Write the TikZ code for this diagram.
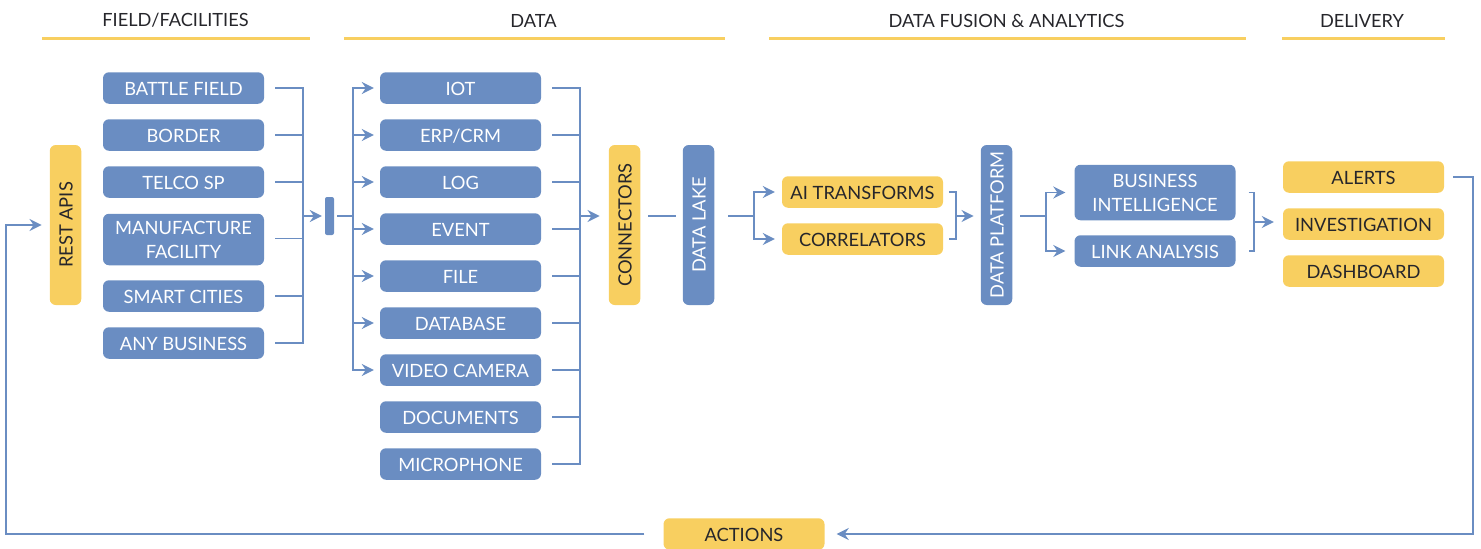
\documentclass[tikz,border=0pt]{standalone}
\usepackage{fontspec}
\setmainfont{Lato}
\usetikzlibrary{arrows.meta}
\definecolor{bluebox}{HTML}{6A8DC2}
\definecolor{yellowbox}{HTML}{F8CF60}
\definecolor{darktext}{HTML}{26262B}
\tikzset{
  base/.style={rounded corners=6pt,inner sep=0pt,align=center,font=\fontsize{18.3}{24}\selectfont,anchor=center},
  bbox/.style={base,fill=bluebox,text=white,minimum width=161pt,minimum height=31.5pt},
  ybox/.style={base,fill=yellowbox,text=darktext,minimum width=161pt,minimum height=31.5pt},
  oneline/.style={text height=15pt,text depth=0pt},
  upright/.style={text height=14pt,text depth=0pt,rotate=90,minimum width=160pt},
  header/.style={font=\fontsize{18.2}{22}\selectfont,text=darktext,inner sep=0pt},
  rule/.style={draw=yellowbox,line width=3pt},
  conn/.style={draw=bluebox,line width=1.9pt,line join=miter},
  arr/.style={conn,-{Stealth[length=12pt,width=12pt,inset=4pt]}},
}
\begin{document}
\begin{tikzpicture}[x=1pt,y=-1pt]
\useasboundingbox (0,0) rectangle (1481,549);
% headers
\node[header] (h1) at (175.5,20.5) {FIELD/FACILITIES};
\node[header] (h2) at (533.5,20.5) {DATA};
\node[header] (h3) at (1006.5,20.5) {DATA FUSION \& ANALYTICS};
\node[header] (h4) at (1362,20.5) {DELIVERY};
\draw[rule] (42,38) -- (310,38);
\draw[rule] (344,38) -- (725,38);
\draw[rule] (769,38) -- (1246,38);
\draw[rule] (1282,38) -- (1445,38);
% field column
\node[bbox,oneline] (f1) at (183.5,88) {BATTLE FIELD};
\node[bbox,oneline] (f2) at (183.5,135) {BORDER};
\node[bbox,oneline] (f3) at (183.5,182) {TELCO SP};
\node[bbox,minimum height=51.5pt] (f4) at (183.5,239.5) {MANUFACTURE\\FACILITY};
\node[bbox,oneline] (f5) at (183.5,296) {SMART CITIES};
\node[bbox,oneline] (f6) at (183.5,343) {ANY BUSINESS};
\node[ybox,upright] (rest) at (65.5,225) {REST APIS};
\node[base,fill=bluebox,minimum width=9pt,minimum height=38pt,rounded corners=2pt] (bar) at (329.5,216) {};
% data column
\node[bbox,oneline] (d1) at (460.5,88) {IOT};
\node[bbox,oneline] (d2) at (460.5,135) {ERP/CRM};
\node[bbox,oneline] (d3) at (460.5,182) {LOG};
\node[bbox,oneline] (d4) at (460.5,229) {EVENT};
\node[bbox,oneline] (d5) at (460.5,276) {FILE};
\node[bbox,oneline] (d6) at (460.5,323) {DATABASE};
\node[bbox,oneline] (d7) at (460.5,370) {VIDEO CAMERA};
\node[bbox,oneline] (d8) at (460.5,417) {DOCUMENTS};
\node[bbox,oneline] (d9) at (460.5,464) {MICROPHONE};
\node[ybox,upright] (conx) at (624.5,225) {CONNECTORS};
\node[bbox,upright] (lake) at (698.5,225) {DATA LAKE};
\node[ybox,oneline] (ai) at (862.5,192) {AI TRANSFORMS};
\node[ybox,oneline] (corr) at (862.5,239) {CORRELATORS};
\node[bbox,upright] (plat) at (996.5,225) {DATA PLATFORM};
\node[bbox,minimum height=55.5pt] (bi) at (1155,192.5) {BUSINESS\\INTELLIGENCE};
\node[bbox,oneline] (link) at (1155,251) {LINK ANALYSIS};
\node[ybox,oneline] (alerts) at (1363.5,177) {ALERTS};
\node[ybox,oneline] (inv) at (1363.5,224) {INVESTIGATION};
\node[ybox,oneline] (dash) at (1363.5,271) {DASHBOARD};
\node[ybox,oneline] (act) at (744,534) {ACTIONS};
% bus coordinates
\coordinate (b1) at (303,216);
\coordinate (b2) at (353,216);
\coordinate (b3) at (580,216);
\coordinate (b4) at (754,216);
\coordinate (b5) at (956,216);
\coordinate (b6) at (1046,216);
\coordinate (b7) at (1254,222);
\coordinate (outR) at (1473,534);
\coordinate (outL) at (6,534);
% field -> bar
\draw[conn] ([xshift=11pt]f1.east) -| (b1 |- f6.east) -- ([xshift=11pt]f6.east);
\foreach \n in {f2,f3,f5}{\draw[conn] ([xshift=11pt]\n.east) -- (b1 |- \n.east);}
\draw[conn] ([xshift=11pt,yshift=1pt]f4.east) -- ([yshift=1pt]b1 |- f4.east);
\draw[arr] (b1) -- ([xshift=-3pt]bar.west);
% bar -> data
\draw[conn] ([xshift=3pt]bar.east) -- (b2);
\draw[arr] (b2 |- d7.west) -- (b2 |- d1.west) -- ([xshift=-6pt]d1.west);
\foreach \n in {d2,d3,d4,d5,d6}{\draw[arr] (b2 |- \n.west) -- ([xshift=-6pt]\n.west);}
\draw[arr] (b2 |- d1.west) -- (b2 |- d7.west) -- ([xshift=-6pt]d7.west);
% data -> connectors
\draw[conn] ([xshift=11pt]d1.east) -| (b3 |- d9.east) -- ([xshift=11pt]d9.east);
\foreach \n in {d2,d3,d4,d5,d6,d7,d8}{\draw[conn] ([xshift=11pt]\n.east) -- (b3 |- \n.east);}
\draw[arr] (b3) -- ([xshift=-9pt]conx.north |- b3);
% connectors -> lake
\draw[conn] ([xshift=8pt]conx.south |- b3) -- ([xshift=-7pt]lake.north |- b3);
% lake -> AI, corr
\draw[conn] ([xshift=14pt]lake.south |- b4) -- (b4);
\draw[arr] (b4) |- ([xshift=-7pt]ai.west);
\draw[arr] (b4) |- ([xshift=-7pt]corr.west);
% AI -> platform
\draw[conn] ([xshift=6pt]ai.east) -| (b5 |- corr.east) -- ([xshift=6pt]corr.east);
\draw[arr] (b5) -- ([xshift=-7pt]plat.north |- b5);
% platform -> BI, link
\draw[conn] ([xshift=8pt]plat.south |- b6) -- (b6);
\draw[arr] (b6) |- ([xshift=-9pt]bi.west);
\draw[arr] (b6) |- ([xshift=-9pt]link.west);
% BI -> delivery
\draw[conn] ([xshift=13pt]bi.east) -| (b7 |- link.east) -- ([xshift=13pt]link.east);
\draw[arr] (b7) -- ([xshift=-9pt]inv.west |- b7);
% feedback
\draw[arr] ([xshift=9pt]alerts.east) -| (outR) -- ([xshift=12pt]act.east);
\draw[arr] ([xshift=-19pt]act.west) -- (outL) |- ([xshift=-8pt]rest.north);
\end{tikzpicture}
\end{document}
